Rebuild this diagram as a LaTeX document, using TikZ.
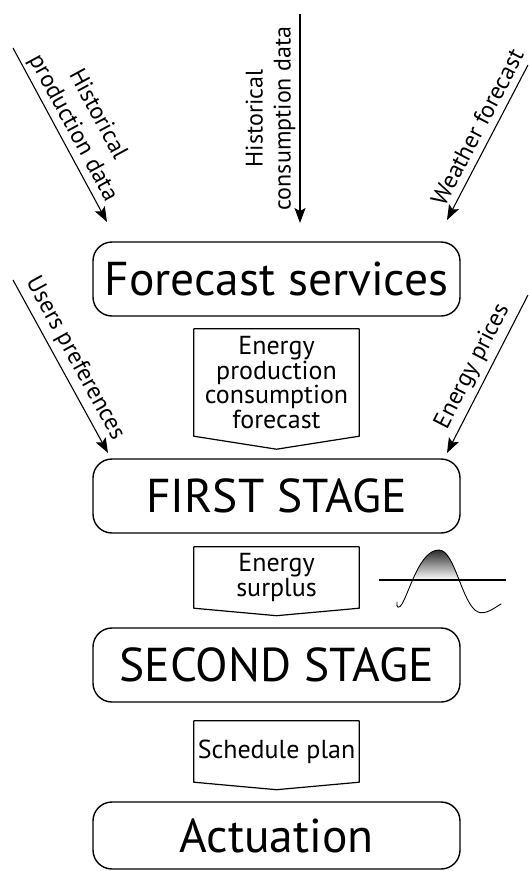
\documentclass[tikz,border=0pt]{standalone}
\usepackage{fontspec}
\setmainfont{PT Sans}
\usetikzlibrary{arrows.meta,calc}

\begin{document}
\begin{tikzpicture}[x=1pt,y=-1pt,line join=round,
  >={Stealth[length=15pt,width=11pt,inset=3pt]},
  stage/.style={draw,line width=1.4pt,rounded corners=19pt,minimum width=367pt,
    minimum height=74pt,inner sep=0pt,font=\fontsize{47.5}{50}\selectfont},
  flowbox/.style={minimum width=165pt,inner sep=0pt,align=center,
    font=\fontsize{26}{23}\selectfont},
  flowline/.style={line width=1.2pt},
  feed/.style={->,line width=1.1pt},
  feedlabel/.style={font=\fontsize{24}{28}\selectfont,align=center,sloped,above,inner sep=5pt}]

\useasboundingbox (0,0) rectangle (529,871);

% main stages
\node[stage] (fs) at (276.5,279) {Forecast services};
\node[stage] (s1) at (276.5,496) {FIRST STAGE};
\node[stage] (s2) at (276.5,665) {SECOND STAGE};
\node[stage,minimum height=67pt] (act) at (276.5,835.5) {Actuation};

% flow labels between stages (pentagon arrows)
\node[flowbox,minimum height=107pt] (f1) at (276.5,382.5) {Energy\\production\\consumption\\forecast};
\draw[flowline] (f1.north west) -- (f1.north east) -- (f1.south east)
  -- ($(f1.south)+(0,13)$) -- (f1.south west) -- cycle;

\node[flowbox,minimum height=61pt] (f2) at (276.5,577.5) {Energy\\surplus};
\draw[flowline] (f2.north west) -- (f2.north east) -- (f2.south east)
  -- ($(f2.south)+(0,7.5)$) -- (f2.south west) -- cycle;

\node[flowbox,minimum height=61pt] (f3) at (276.5,751.5) {Schedule plan};
\draw[flowline] (f3.north west) -- (f3.north east) -- (f3.south east)
  -- ($(f3.south)+(0,7.5)$) -- (f3.south west) -- cycle;

% external inputs
\coordinate (hp0) at (13,48);   \coordinate (hp1) at (107,222);
\coordinate (hc0) at (300,14);  \coordinate (hc1) at (300,223);
\coordinate (wf0) at (528,65);  \coordinate (wf1) at (447,220);
\coordinate (up0) at (13,280);  \coordinate (up1) at (108,453);
\coordinate (ep0) at (528,295); \coordinate (ep1) at (447,453);

\draw[feed] (hp0) -- node[feedlabel,inner sep=3pt] {Historical\\production data} (hp1);
\draw[<-,line width=1.1pt] (hc1) -- node[feedlabel,inner sep=4pt] {Historical\\consumption data} (hc0);
\draw[feed] (wf0) -- node[feedlabel,pos=0.45,inner sep=7pt] {Weather forecast} (wf1);
\draw[feed] (up0) -- node[feedlabel] {Users preferences} (up1);
\draw[feed] (ep0) -- node[feedlabel] {Energy prices} (ep1);

% surplus sketch: shaded area above the axis
\begin{scope}
  \clip (402,604) .. controls (410,590) and (420,550) .. (439,550)
        .. controls (455,550) and (462,605) .. (478,612) -- cycle;
  \shade[top color=black!85,bottom color=white] (395,549) rectangle (490,580);
\end{scope}
\coordinate (axl) at (379,580); \coordinate (axr) at (506,580);
\draw[line width=1.3pt] (axl) -- (axr);
\draw[line width=0.9pt,line cap=round]
  (397,602) .. controls (396,608) and (399,609) .. (402,604)
  .. controls (410,590) and (420,550) .. (439,550)
  .. controls (455,550) and (462,605) .. (478,612)
  .. controls (486,615) and (494,608) .. (501,604);
\end{tikzpicture}
\end{document}
